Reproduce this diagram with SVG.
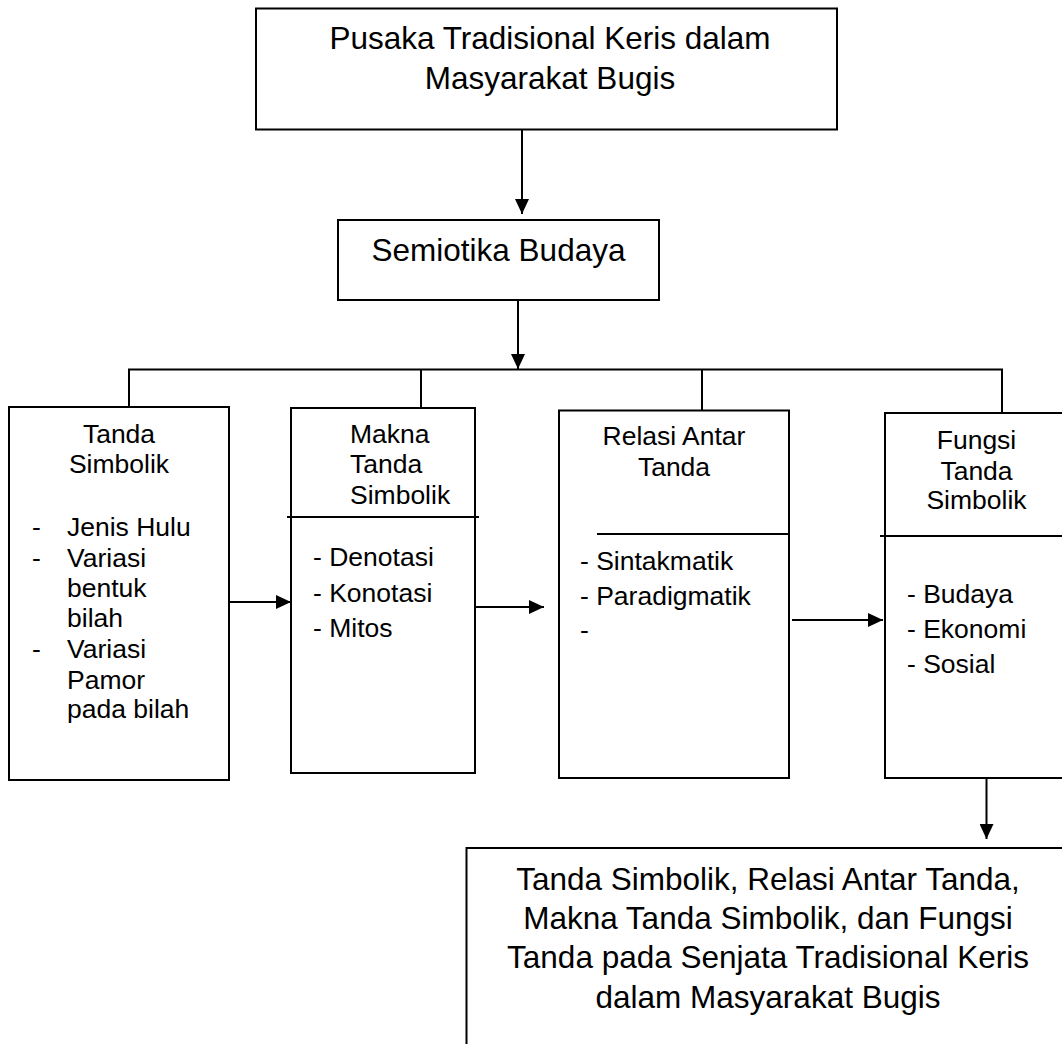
<svg xmlns="http://www.w3.org/2000/svg" width="1062" height="1044" viewBox="0 0 1062 1044">
<style>
  .box { fill: #fff; stroke: #000; stroke-width: 2; }
  .ln { fill: none; stroke: #000; stroke-width: 2; }
  .big { font-family: "Liberation Sans", Arial, sans-serif; font-size: 31.5px; fill: #000; }
  .sm { font-family: "Liberation Sans", Arial, sans-serif; font-size: 26.5px; fill: #000; }
  .c { text-anchor: middle; }
</style>
<defs>
  <marker id="ah" markerUnits="userSpaceOnUse" markerWidth="16" markerHeight="14" refX="15" refY="7" orient="auto">
    <path d="M0,0 L15,7 L0,14 Z" fill="#000"/>
  </marker>
</defs>
<rect width="1062" height="1044" fill="#fff"/>

<g id="connectors">
  <line class="ln" x1="522" y1="129" x2="522" y2="214" marker-end="url(#ah)"/>
  <line class="ln" x1="518" y1="300" x2="518" y2="369" marker-end="url(#ah)"/>
  <line class="ln" x1="128" y1="369.5" x2="1003" y2="369.5"/>
  <line class="ln" x1="129" y1="369" x2="129" y2="407"/>
  <line class="ln" x1="421" y1="369" x2="421" y2="408"/>
  <line class="ln" x1="702" y1="369" x2="702" y2="410"/>
  <line class="ln" x1="1002" y1="369" x2="1002" y2="413"/>
  <line class="ln" x1="226" y1="602" x2="291" y2="602" marker-end="url(#ah)"/>
  <line class="ln" x1="454" y1="607" x2="544" y2="607" marker-end="url(#ah)"/>
  <line class="ln" x1="792" y1="620" x2="883" y2="620" marker-end="url(#ah)"/>
  <line class="ln" x1="986.5" y1="778" x2="986.5" y2="839" marker-end="url(#ah)"/>
</g>

<g id="n-pusaka">
  <rect class="box" x="256" y="8.5" width="581" height="121"/>
  <text class="big c" x="550" y="49">Pusaka Tradisional Keris dalam</text>
  <text class="big c" x="550" y="89">Masyarakat Bugis</text>
</g>

<g id="n-semiotika">
  <rect class="box" x="338" y="220" width="321" height="80"/>
  <text class="big c" x="498.5" y="261">Semiotika Budaya</text>
</g>

<g id="n-tanda">
  <rect class="box" x="9" y="407" width="220" height="373"/>
  <text class="sm c" x="119" y="443">Tanda</text>
  <text class="sm c" x="119" y="473">Simbolik</text>
  <text class="sm" x="32" y="536">-</text>
  <text class="sm" x="67" y="536">Jenis Hulu</text>
  <text class="sm" x="32" y="567">-</text>
  <text class="sm" x="67" y="567">Variasi</text>
  <text class="sm" x="67" y="597">bentuk</text>
  <text class="sm" x="67" y="627">bilah</text>
  <text class="sm" x="32" y="658">-</text>
  <text class="sm" x="67" y="658">Variasi</text>
  <text class="sm" x="67" y="689">Pamor</text>
  <text class="sm" x="67" y="718">pada bilah</text>
</g>

<g id="n-makna">
  <rect class="box" x="291" y="408" width="184" height="365"/>
  <line class="ln" x1="287" y1="517" x2="479" y2="517"/>
  <text class="sm" x="350" y="443">Makna</text>
  <text class="sm" x="350" y="473">Tanda</text>
  <text class="sm" x="350" y="504">Simbolik</text>
  <text class="sm" x="313" y="566">- Denotasi</text>
  <text class="sm" x="313" y="602">- Konotasi</text>
  <text class="sm" x="313" y="637">- Mitos</text>
</g>

<g id="n-relasi">
  <rect class="box" x="559" y="410.5" width="230" height="367.5"/>
  <line class="ln" x1="597" y1="534" x2="789" y2="534"/>
  <text class="sm c" x="674" y="445">Relasi Antar</text>
  <text class="sm c" x="674" y="476">Tanda</text>
  <text class="sm" x="580" y="570">- Sintakmatik</text>
  <text class="sm" x="580" y="605">- Paradigmatik</text>
  <text class="sm" x="580" y="639">-</text>
</g>

<g id="n-fungsi">
  <rect class="box" x="885" y="413" width="190" height="365"/>
  <line class="ln" x1="880" y1="536" x2="1062" y2="536"/>
  <text class="sm c" x="976.5" y="449">Fungsi</text>
  <text class="sm c" x="976.5" y="480">Tanda</text>
  <text class="sm c" x="976.5" y="509">Simbolik</text>
  <text class="sm" x="907" y="603">- Budaya</text>
  <text class="sm" x="907" y="638">- Ekonomi</text>
  <text class="sm" x="907" y="673">- Sosial</text>
</g>

<g id="n-hasil">
  <rect class="box" x="466.5" y="848" width="620" height="220"/>
  <text class="big c" x="768" y="890">Tanda Simbolik, Relasi Antar Tanda,</text>
  <text class="big c" x="768" y="929">Makna Tanda Simbolik, dan Fungsi</text>
  <text class="big c" x="768" y="968">Tanda pada Senjata Tradisional Keris</text>
  <text class="big c" x="768" y="1008">dalam Masyarakat Bugis</text>
</g>
</svg>
